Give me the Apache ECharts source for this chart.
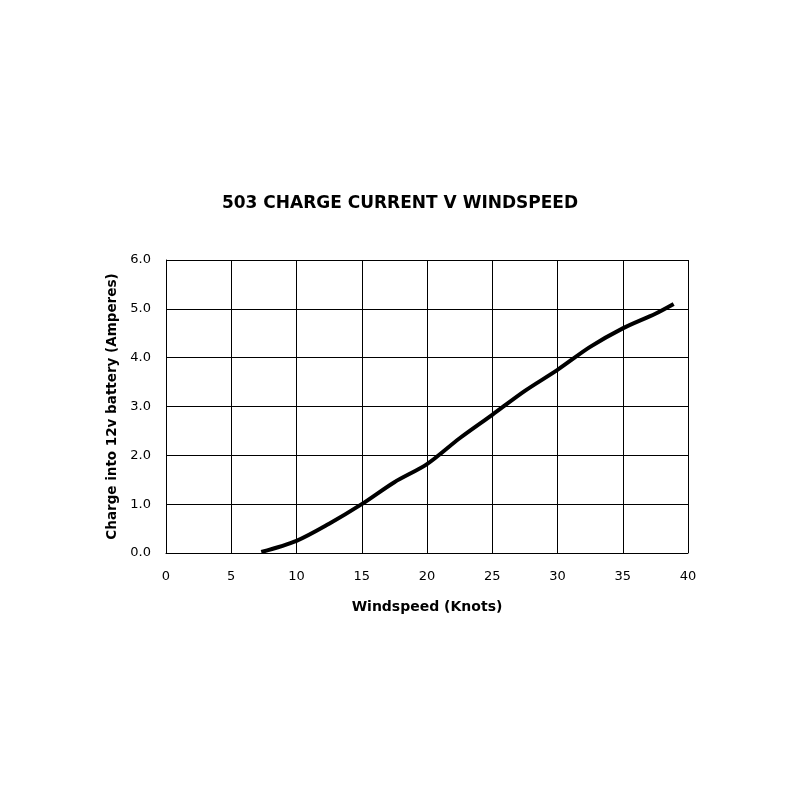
<!DOCTYPE html>
<html><head><meta charset="utf-8">
<script src="https://cdn.jsdelivr.net/npm/echarts@6/dist/echarts.min.js"></script>
<style>html,body{margin:0;padding:0;background:#fff}#c{width:800px;height:800px}</style>
</head><body><div id="c"></div>
<script>
const windspeed = [7.3, 10, 12.5, 15, 17.5, 20, 22.5, 25, 27.5, 30, 32.5, 35, 37.5, 38.9];
const charge = [0.02, 0.25, 0.6, 1.0, 1.45, 1.82, 2.35, 2.83, 3.32, 3.75, 4.22, 4.6, 4.9, 5.1];
const titleText = '503 CHARGE CURRENT V WINDSPEED';
const xName = 'Windspeed (Knots)';
const yName = 'Charge into 12v battery (Amperes)';

const chart = echarts.init(document.getElementById('c'));
const font = 'DejaVu Sans, Liberation Sans, Arial, sans-serif';
chart.setOption({
  backgroundColor: '#fff',
  animation: false,
  title: {text: titleText, left: 'center', top: 190, padding: [5, 5, 5, 0],
    textStyle: {fontFamily: font, fontSize: 17, fontWeight: 'bold', color: '#000'}},
  grid: {left: 166, right: 112, top: 260, bottom: 247},
  xAxis: {type: 'value', min: 0, max: 40, interval: 5,
    name: xName, nameLocation: 'middle', nameGap: 47,
    nameTextStyle: {fontFamily: font, fontSize: 14, fontWeight: 'bold', color: '#000'},
    axisLine: {show: true, lineStyle: {color: '#000', width: 1}},
    axisTick: {show: false},
    axisLabel: {fontFamily: font, fontSize: 13, color: '#000', margin: 17},
    splitLine: {show: true, lineStyle: {color: '#000', width: 1}}},
  yAxis: {type: 'value', min: 0, max: 6, interval: 1,
    name: yName, nameLocation: 'middle', nameGap: 43, nameRotate: 90,
    nameTextStyle: {fontFamily: font, fontSize: 13.5, fontWeight: 'bold', color: '#000'},
    axisLine: {show: true, lineStyle: {color: '#000', width: 1}},
    axisTick: {show: false},
    axisLabel: {fontFamily: font, fontSize: 13, color: '#000', margin: 15,
      formatter: v => v.toFixed(1)},
    splitLine: {show: true, lineStyle: {color: '#000', width: 1}}},
  series: [{type: 'line', data: windspeed.map((x, i) => [x, charge[i]]),
    smooth: 0.3, symbol: 'none', lineStyle: {color: '#000', width: 4}}]
});
</script></body></html>
